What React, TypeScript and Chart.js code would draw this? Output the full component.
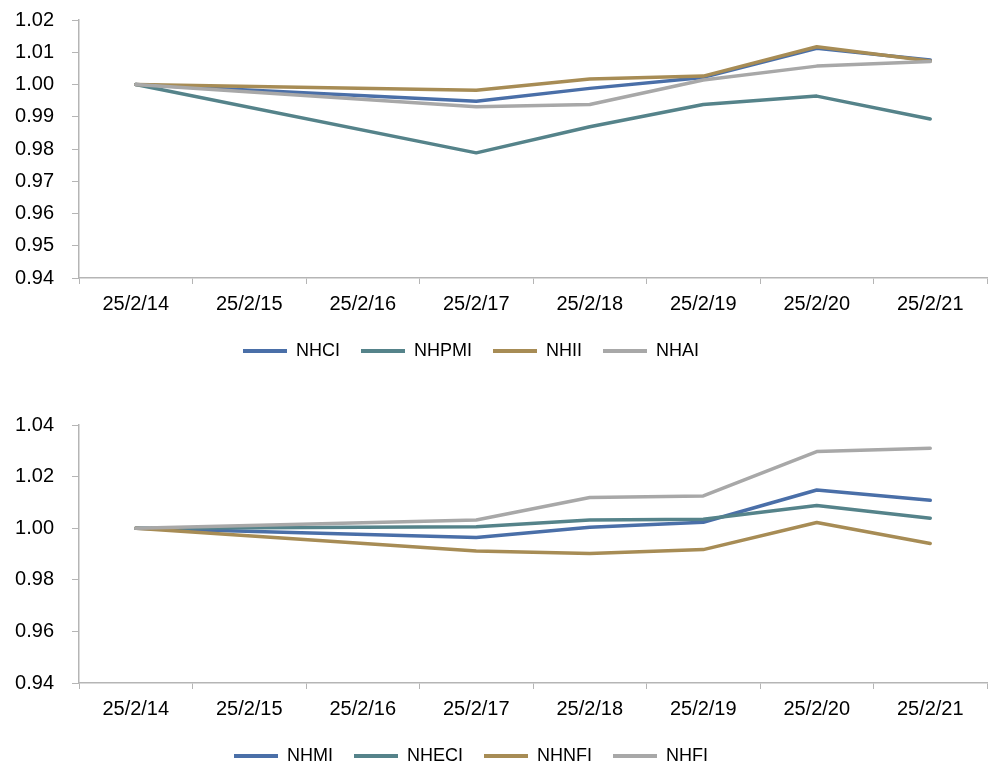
import React, { useEffect, useRef } from "react";
import { Chart, registerables } from "chart.js";

Chart.register(...registerables);

const categories = ["25/2/14", "25/2/15", "25/2/16", "25/2/17", "25/2/18", "25/2/19", "25/2/20", "25/2/21"];

// Top chart
const NHCI = [1.0, null, null, 0.9948, 0.9988, 1.0022, 1.0112, 1.0076];
const NHPMI = [1.0, null, null, 0.9788, 0.9869, 0.9938, 0.9964, 0.9893];
const NHII = [1.0, null, null, 0.9982, 1.0017, 1.0026, 1.0117, 1.0073];
const NHAI = [1.0, null, null, 0.9931, 0.9938, 1.0014, 1.0057, 1.0071];

// Bottom chart
const NHMI = [1.0, null, null, 0.9964, 1.0004, 1.0023, 1.0148, 1.0108];
const NHECI = [1.0, null, null, 1.0006, 1.0032, 1.0035, 1.0088, 1.0039];
const NHNFI = [1.0, null, null, 0.9912, 0.9902, 0.9917, 1.0022, 0.9941];
const NHFI = [1.0, null, null, 1.0032, 1.0119, 1.0125, 1.0297, 1.031];

const topAxis = { min: 0.94, max: 1.02, step: 0.01 };
const bottomAxis = { min: 0.94, max: 1.04, step: 0.02 };

const COLORS = ["#4A6FA8", "#55838A", "#A78C55", "#A8A8A8"];
const AXIS = "#B5B5B5";
const FONT = "'Liberation Sans', Arial, sans-serif";

type Series = { label: string; data: (number | null)[] };

function LineChart({ series, axis }: { series: Series[]; axis: { min: number; max: number; step: number } }) {
  const ref = useRef<HTMLCanvasElement | null>(null);
  useEffect(() => {
    if (!ref.current) return;
    const chart = new Chart(ref.current, {
      type: "line",
      data: {
        labels: categories,
        datasets: series.map((s, i) => ({
          label: s.label,
          data: s.data,
          borderColor: COLORS[i],
          backgroundColor: COLORS[i],
          borderWidth: 3.5,
          pointRadius: 0,
          pointHoverRadius: 0,
          tension: 0,
          spanGaps: true,
          borderJoinStyle: "round",
          borderCapStyle: "round",
          order: series.length - i,
        })),
      },
      options: {
        animation: false,
        responsive: false,
        layout: { padding: { top: 20, right: 6, bottom: 15, left: 0 } },
        plugins: {
          tooltip: { enabled: false },
          legend: {
            position: "bottom",
            align: "center",
            labels: {
              font: { family: FONT, size: 18 },
              color: "#000",
              boxWidth: 44,
              boxHeight: 4,
              padding: 21,
              sort: (a: any, b: any) => a.datasetIndex - b.datasetIndex,
              generateLabels: (c: any) =>
                Chart.defaults.plugins.legend.labels.generateLabels(c).map((l: any) => ({
                  ...l,
                  fillStyle: l.strokeStyle,
                  lineWidth: 0,
                })),
            },
          },
        },
        scales: {
          x: {
            offset: true,
            grid: { display: true, drawOnChartArea: false, offset: true, tickLength: 6, color: AXIS },
            border: { display: true, color: AXIS, width: 1.5 },
            ticks: { font: { family: FONT, size: 20 }, color: "#000", padding: 8, maxRotation: 0, autoSkip: false },
            afterFit: (s: any) => {
              s.height = 43;
            },
          },
          y: {
            min: axis.min,
            max: axis.max,
            grid: { display: true, drawOnChartArea: false, tickLength: 7, color: AXIS },
            border: { display: true, color: AXIS, width: 1.5 },
            ticks: {
              stepSize: axis.step,
              font: { family: FONT, size: 20 },
              color: "#000",
              padding: 18,
              callback: (v: any) => Number(v).toFixed(2),
            },
            afterFit: (s: any) => {
              s.width = 124;
              s.paddingTop = 0;
              s.paddingBottom = 0;
            },
          },
        },
      },
    });
    return () => chart.destroy();
  }, []);
  return <canvas ref={ref} width={1038} height={385} style={{ display: "block" }} />;
}

export default function App() {
  const topSeries: Series[] = [
    { label: "NHCI", data: NHCI },
    { label: "NHPMI", data: NHPMI },
    { label: "NHII", data: NHII },
    { label: "NHAI", data: NHAI },
  ];
  const bottomSeries: Series[] = [
    { label: "NHMI", data: NHMI },
    { label: "NHECI", data: NHECI },
    { label: "NHNFI", data: NHNFI },
    { label: "NHFI", data: NHFI },
  ];
  return (
    <div style={{ position: "fixed", left: 0, top: 0, width: 993, height: 769, overflow: "hidden", background: "#fff" }}>
      <div style={{ position: "absolute", left: -45, top: 0 }}>
        <LineChart series={topSeries} axis={topAxis} />
      </div>
      <div style={{ position: "absolute", left: -45, top: 405 }}>
        <LineChart series={bottomSeries} axis={bottomAxis} />
      </div>
    </div>
  );
}
